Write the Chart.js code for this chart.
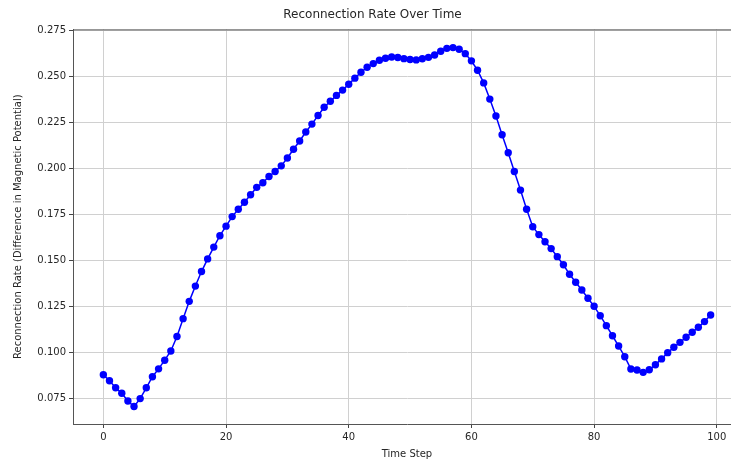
<!DOCTYPE html>
<html>
<head>
<meta charset="utf-8">
<script src="https://cdn.jsdelivr.net/npm/chart.js@4.4.1/dist/chart.umd.min.js"></script>
<style>
  html, body { margin: 0; padding: 0; background: #fff; overflow: hidden; }
  #wrap { width: 745px; height: 462px; }
</style>
</head>
<body>
<div id="wrap"><canvas id="myChart" width="745" height="462"></canvas></div>
<script>
// time steps 0..99
const steps = [
  0, 1, 2, 3, 4, 5, 6, 7, 8, 9, 10, 11, 12, 13, 14, 15, 16, 17, 18, 19,
  20, 21, 22, 23, 24, 25, 26, 27, 28, 29, 30, 31, 32, 33, 34, 35, 36, 37, 38, 39,
  40, 41, 42, 43, 44, 45, 46, 47, 48, 49, 50, 51, 52, 53, 54, 55, 56, 57, 58, 59,
  60, 61, 62, 63, 64, 65, 66, 67, 68, 69, 70, 71, 72, 73, 74, 75, 76, 77, 78, 79,
  80, 81, 82, 83, 84, 85, 86, 87, 88, 89, 90, 91, 92, 93, 94, 95, 96, 97, 98, 99
];
// reconnection rate
const rates = [
  0.0880, 0.0847, 0.0809, 0.0779, 0.0737, 0.0707, 0.0750, 0.0809, 0.0869, 0.0912,
  0.0959, 0.1009, 0.1088, 0.1185, 0.1279, 0.1362, 0.1441, 0.1510, 0.1574, 0.1636,
  0.1688, 0.1740, 0.1780, 0.1818, 0.1859, 0.1899, 0.1924, 0.1958, 0.1985, 0.2016,
  0.2059, 0.2106, 0.2151, 0.2200, 0.2243, 0.2290, 0.2335, 0.2367, 0.2399, 0.2428,
  0.2460, 0.2493, 0.2525, 0.2552, 0.2572, 0.2590, 0.2601, 0.2608, 0.2605, 0.2599,
  0.2594, 0.2592, 0.2598, 0.2606, 0.2619, 0.2639, 0.2655, 0.2659, 0.2650, 0.2626,
  0.2587, 0.2536, 0.2467, 0.2379, 0.2287, 0.2185, 0.2087, 0.1985, 0.1884, 0.1780,
  0.1685, 0.1642, 0.1603, 0.1566, 0.1522, 0.1478, 0.1426, 0.1383, 0.1341, 0.1296,
  0.1252, 0.1201, 0.1147, 0.1092, 0.1036, 0.0978, 0.0911, 0.0906, 0.0893, 0.0907,
  0.0934, 0.0966, 0.1000, 0.1029, 0.1056, 0.1084, 0.1111, 0.1138, 0.1169, 0.1205
];
const xTicks = [0, 20, 40, 60, 80, 100];
const yTicks = [0.075, 0.100, 0.125, 0.150, 0.175, 0.200, 0.225, 0.250, 0.275];

const font = 'DejaVu Sans';
const ink = '#262626';

// matplotlib-like frame (top spine)
const frame = {
  id: 'frame',
  afterDraw(chart) {
    const {ctx, chartArea: a} = chart;
    ctx.save();
    ctx.strokeStyle = '#555';
    ctx.lineWidth = 1;
    ctx.beginPath();
    ctx.moveTo(a.left, a.top + 0.5);
    ctx.lineTo(a.right, a.top + 0.5);
    ctx.stroke();
    ctx.restore();
  }
};

const ctx = document.getElementById('myChart').getContext('2d');
const chart = new Chart(ctx, {
  type: 'line',
  data: {
    datasets: [{
      data: steps.map((s, i) => ({x: s, y: rates[i]})),
      borderColor: '#0000ff',
      backgroundColor: '#0000ff',
      borderWidth: 1.5,
      pointRadius: 3.7,
      pointBorderWidth: 0,
      pointBackgroundColor: '#0000ff',
      tension: 0,
      fill: false
    }]
  },
  options: {
    responsive: false,
    animation: false,
    events: [],
    layout: {padding: {left: 0, right: 0, top: 0, bottom: 0}},
    plugins: {
      legend: {display: false},
      tooltip: {enabled: false},
      title: {
        display: true,
        text: 'Reconnection Rate Over Time',
        color: ink,
        font: {family: font, size: 12, weight: 'normal'},
        padding: {top: 8, bottom: 7}
      }
    },
    scales: {
      x: {
        type: 'linear',
        min: -4.95,
        max: 103.95,
        afterBuildTicks: s => { s.ticks = xTicks.map(v => ({value: v})); },
        afterFit: s => { s.height = 38; },
        ticks: {
          color: ink,
          font: {family: font, size: 10},
          padding: 3,
          maxRotation: 0,
          callback: v => String(v)
        },
        grid: {color: '#d0d0d0', lineWidth: 1, tickColor: '#444', tickLength: 4},
        border: {color: '#555', width: 1},
        title: {
          display: true,
          text: 'Time Step',
          color: ink,
          font: {family: font, size: 10},
          padding: {top: 0, bottom: 2}
        }
      },
      y: {
        type: 'linear',
        min: 0.0612,
        max: 0.2758,
        afterBuildTicks: s => { s.ticks = yTicks.map(v => ({value: v})); },
        afterFit: s => { s.width = 73; },
        ticks: {
          color: ink,
          font: {family: font, size: 10},
          padding: 3,
          callback: v => v.toFixed(3)
        },
        grid: {color: '#d0d0d0', lineWidth: 1, tickColor: '#444', tickLength: 4},
        border: {color: '#555', width: 1},
        title: {
          display: true,
          text: 'Reconnection Rate (Difference in Magnetic Potential)',
          color: ink,
          font: {family: font, size: 10},
          padding: {top: 12, bottom: 0}
        }
      }
    }
  },
  plugins: [frame]
});
</script>
</body>
</html>
